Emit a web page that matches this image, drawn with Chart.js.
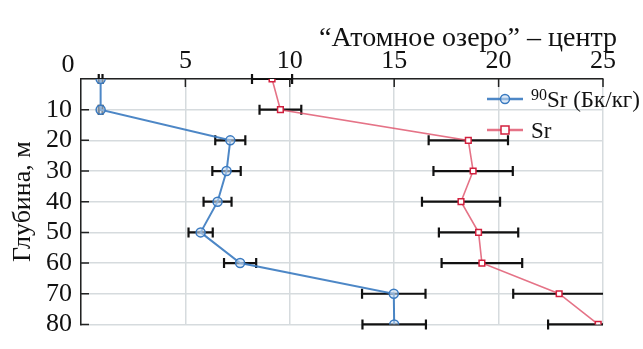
<!DOCTYPE html>
<html>
<head>
<meta charset="utf-8">
<script src="https://cdn.jsdelivr.net/npm/chart.js@4.4.0/dist/chart.umd.min.js"></script>
<style>
html,body{margin:0;padding:0;background:#fff;}
canvas{display:block;}
</style>
</head>
<body>
<canvas id="c" width="643" height="349"></canvas>
<script>
// ---- data ----
const depths   = [0, 10, 20, 30, 40, 50, 60, 70, 80];
const sr90     = [0.94, 0.94, 7.15, 6.97, 6.54, 5.73, 7.62, 14.98, 15.0];
const sr90Err  = [0.09, 0.09, 0.72, 0.68, 0.67, 0.58, 0.77, 1.52, 1.52];
const srVals   = [9.15, 9.55, 18.55, 18.78, 18.2, 19.04, 19.2, 22.9, 24.77];
const srErr    = [0.96, 1.0, 1.9, 1.9, 1.87, 1.9, 1.93, 2.2, 2.4];
const xTicks   = [0, 5, 10, 15, 20, 25];
const yTicks   = [0, 10, 20, 30, 40, 50, 60, 70, 80];
const chartTitle = '“Атомное озеро” – центр';
const yTitle   = 'Глубина, м';
const seriesLabels = [{sup: '90', main: 'Sr (Бк/кг)'}, {sup: '', main: 'Sr'}];

const SERIF = '"Liberation Serif", "DejaVu Serif", serif';
const FS = 26;

const errors = [sr90Err, srErr];

const errorBarPlugin = {
  id: 'errorBars',
  beforeDatasetsDraw(chart) {
    const {ctx, chartArea: a, scales: {x, y}} = chart;
    ctx.save();
    ctx.beginPath();
    ctx.rect(a.left - 10, a.top - 10, a.right - a.left + 10, a.bottom - a.top + 20);
    ctx.clip();
    ctx.strokeStyle = '#111';
    ctx.lineWidth = 2.2;
    chart.data.datasets.forEach((ds, di) => {
      ds.data.forEach((p, i) => {
        const e = errors[di][i];
        const x1 = x.getPixelForValue(p.x - e), x2 = x.getPixelForValue(p.x + e);
        const py = y.getPixelForValue(p.y);
        const xr = Math.min(x2, a.right);
        ctx.beginPath();
        ctx.moveTo(x1, py); ctx.lineTo(xr, py);
        ctx.moveTo(x1, py - 5); ctx.lineTo(x1, py + 5);
        if (x2 <= a.right + 0.5) { ctx.moveTo(x2, py - 5); ctx.lineTo(x2, py + 5); }
        ctx.stroke();
      });
    });
    ctx.restore();
  }
};

const decorPlugin = {
  id: 'decor',
  afterDraw(chart) {
    const {ctx, chartArea: a, scales: {x, y}} = chart;
    ctx.save();
    // inward tick marks
    ctx.strokeStyle = '#222';
    ctx.lineWidth = 1.5;
    ctx.beginPath();
    xTicks.forEach(v => {
      if (v === 0) return;
      const px = x.getPixelForValue(v);
      ctx.moveTo(px, a.top); ctx.lineTo(px, a.top + 8);
    });
    yTicks.forEach(v => {
      if (v === 0) return;
      const py = y.getPixelForValue(v);
      ctx.moveTo(a.left, py); ctx.lineTo(a.left + 8, py);
    });
    ctx.stroke();
    // the "0" corner label
    ctx.fillStyle = '#111';
    ctx.font = FS + 'px ' + SERIF;
    ctx.textAlign = 'center';
    ctx.textBaseline = 'alphabetic';
    ctx.fillText('0', a.left - 13, a.top - 7);
    // title
    ctx.font = '28px ' + SERIF;
    ctx.textAlign = 'right';
    ctx.fillText(chartTitle, 617, 46);
    // legend
    const rows = [a.top + 20, a.top + 51];
    chart.data.datasets.forEach((ds, i) => {
      const ly = rows[i];
      ctx.strokeStyle = ds.borderColor;
      ctx.lineWidth = 2.5;
      ctx.beginPath(); ctx.moveTo(487, ly); ctx.lineTo(523, ly); ctx.stroke();
      ctx.lineWidth = 1.5;
      ctx.fillStyle = ds.pointBackgroundColor;
      ctx.strokeStyle = ds.pointBorderColor;
      ctx.beginPath();
      if (ds.pointStyle === 'circle') ctx.arc(505, ly, 4.5, 0, Math.PI * 2);
      else ctx.rect(501, ly - 4, 8, 8);
      ctx.fill(); ctx.stroke();
      ctx.fillStyle = '#111';
      ctx.textAlign = 'left';
      let tx = 531;
      const lab = seriesLabels[i];
      if (lab.sup) {
        ctx.font = '16px ' + SERIF;
        ctx.fillText(lab.sup, tx, ly + 1);
        tx += ctx.measureText(lab.sup).width;
      }
      ctx.font = '23px ' + SERIF;
      ctx.fillText(lab.main, tx, ly + 8);
    });
    ctx.restore();
  }
};

new Chart(document.getElementById('c'), {
  type: 'line',
  data: {
    datasets: [
      {
        label: seriesLabels[0].sup + seriesLabels[0].main,
        data: depths.map((d, i) => ({x: sr90[i], y: d})),
        borderColor: 'rgba(58,122,192,0.9)',
        borderWidth: 2,
        pointStyle: 'circle',
        pointRadius: 4.5,
        pointBorderWidth: 1.5,
        pointBorderColor: 'rgba(58,122,192,1)',
        pointBackgroundColor: 'rgba(200,220,242,0.6)',
        tension: 0
      },
      {
        label: seriesLabels[1].main,
        data: depths.map((d, i) => ({x: srVals[i], y: d})),
        borderColor: 'rgba(222,80,105,0.8)',
        borderWidth: 1.6,
        pointStyle: 'rect',
        pointRadius: 4,
        pointBorderWidth: 1.5,
        pointBorderColor: '#d2203e',
        pointBackgroundColor: '#ffffff',
        tension: 0
      }
    ]
  },
  options: {
    responsive: false,
    animation: false,
    devicePixelRatio: 1,
    layout: {padding: {top: 0, left: 0, right: 40, bottom: 9}},
    plugins: {legend: {display: false}, title: {display: false}, tooltip: {enabled: false}},
    scales: {
      x: {
        type: 'linear', position: 'top', min: 0, max: 25,
        afterBuildTicks(s) { s.ticks = xTicks.map(v => ({value: v})); },
        afterFit(s) { s.height = 79; },
        grid: {color: '#d6dbde', lineWidth: 1.5, drawTicks: false},
        border: {display: true, color: '#222', width: 1.5},
        ticks: {
          color: '#111', padding: 2, autoSkip: false, maxRotation: 0,
          font: {family: SERIF, size: FS},
          callback: v => (v === 0 ? '' : String(v))
        }
      },
      y: {
        type: 'linear', reverse: true, min: 0, max: 80,
        afterBuildTicks(s) { s.ticks = yTicks.map(v => ({value: v})); },
        afterFit(s) { s.width = 81; },
        grid: {color: '#d6dbde', lineWidth: 1.5, drawTicks: false},
        border: {display: true, color: '#222', width: 1.5},
        title: {display: true, text: yTitle, color: '#111', font: {family: SERIF, size: FS, lineHeight: 1.0}, padding: {top: 10, bottom: 0}},
        ticks: {
          color: '#111', padding: 9, autoSkip: false,
          font: {family: SERIF, size: FS},
          callback: v => (v === 0 ? '' : String(v))
        }
      }
    }
  },
  plugins: [errorBarPlugin, decorPlugin]
});
</script>
</body>
</html>
